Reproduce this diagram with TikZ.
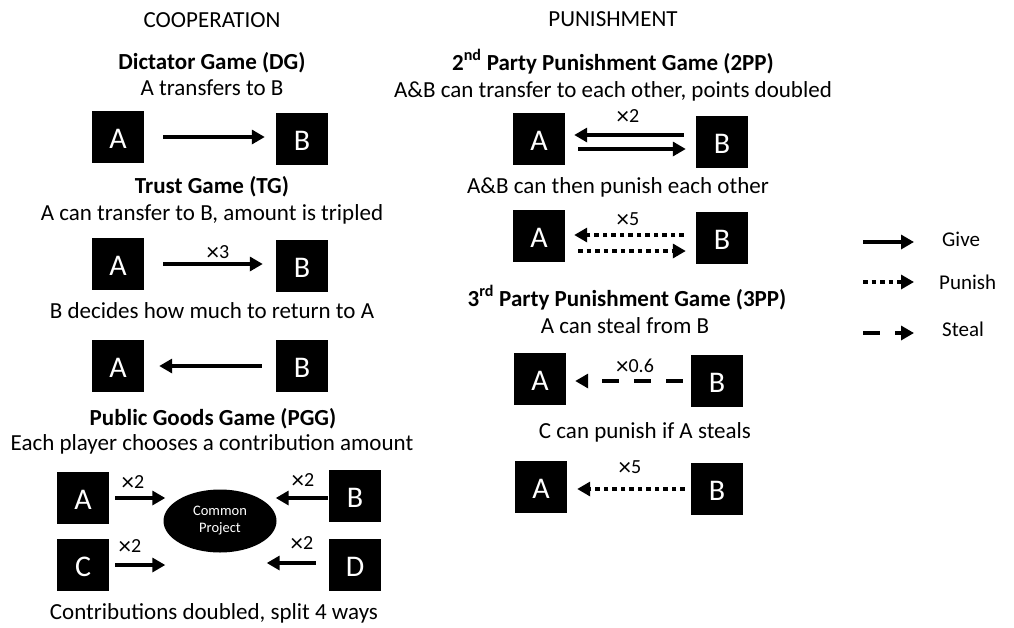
\documentclass[tikz,border=0pt]{standalone}
\usepackage{fontspec}
\setmainfont{Carlito}
\usetikzlibrary{arrows.meta,shapes.geometric,calc}
\newcommand{\tms}{\raisebox{-2.4pt}{\scalebox{1.25}{×}}}
\begin{document}
\begin{tikzpicture}[x=1pt,y=-1pt,
  txt/.style={font=\fontsize{23}{27}\selectfont, inner sep=0pt, text height=16pt, text depth=2pt},
  ttl/.style={txt, font=\fontsize{23}{27}\selectfont\bfseries},
  lbl/.style={font=\fontsize{20}{22}\selectfont, inner sep=0pt, text height=13pt, text depth=0pt},
  lgd/.style={font=\fontsize{21}{24}\selectfont, inner sep=0pt, anchor=west, text height=15pt, text depth=2pt},
  box/.style={fill=black, text=white, minimum size=52pt, inner sep=0pt, font=\fontsize{30}{32}\selectfont, text height=22pt, text depth=0pt},
  proj/.style={ellipse, fill=black, text=white, minimum width=113pt, minimum height=63pt, inner sep=0pt, align=center, font=\fontsize{14.5}{17}\selectfont},
  arr/.style={line width=4.5pt, -{Triangle[length=13pt,width=14pt]}},
  give/.style={arr},
  punish/.style={arr, dash pattern=on 4.7pt off 3.8pt},
  steal/.style={arr, dash pattern=on 17pt off 15pt},
]
\useasboundingbox (0,0) rectangle (1014,627);

% ---------- COOPERATION ----------
\node[txt] (coop) at (212,20) {COOPERATION};
\node[ttl] (dgT) at (212,62) {Dictator Game (DG)};
\node[txt] (dgS) at (212,88) {A transfers to B};
\node[box] (dgA) at (118,137) {A};
\node[box] (dgB) at (302,139) {B};
\draw[give, shorten <=19pt, shorten >=11pt] (dgA.east) -- (dgA.east -| dgB.west);

\node[ttl] (tgT) at (212,186) {Trust Game (TG)};
\node[txt] (tgS) at (212,213) {A can transfer to B, amount is tripled};
\node[box] (tgA) at (118,264) {A};
\node[box] (tgB) at (302,266) {B};
\draw[give, shorten <=19pt, shorten >=13pt] (tgA.east) -- (tgA.east -| tgB.west);
\node[lbl] (tgL) at (218,252) {\tms3};

\node[txt] (tgR) at (212,311) {B decides how much to return to A};
\node[box] (trA) at (118,366) {A};
\node[box] (trB) at (302,366) {B};
\draw[give, shorten <=14pt, shorten >=15pt] (trB.west) -- (trA.east);

\node[ttl] (pgT) at (213,418) {Public Goods Game (PGG)};
\node[txt] (pgS) at (212,443) {Each player chooses a contribution amount};
\node[box] (pgA) at (83,498) {A};
\node[box] (pgB) at (355,496) {B};
\node[box] (pgC) at (83,565) {C};
\node[box] (pgD) at (355,565) {D};
\node[proj] (cp) at (220,521) {Common\\Project};
\draw[give, shorten <=6pt, shorten >=-2pt] (pgA.east) -- (pgA.east -| cp.west);
\draw[give, shorten <=6pt, shorten >=-2pt] (pgC.east) -- (pgC.east -| cp.west);
\draw[give, shorten <=1pt, shorten >=-1pt] ([yshift=-2pt]pgB.west) -- ([yshift=-2pt]pgB.west -| cp.east);
\draw[give, shorten <=13pt, shorten >=-10pt] ([yshift=2pt]pgD.west) -- ([yshift=2pt]pgD.west -| cp.east);
\node[lbl] (pgLA) at (133,482) {\tms2};
\node[lbl] (pgLC) at (130,546) {\tms2};
\node[lbl] (pgLB) at (303,480) {\tms2};
\node[lbl] (pgLD) at (302,543) {\tms2};
\node[txt] (pgE) at (214,612) {Contributions doubled, split 4 ways};

% ---------- PUNISHMENT ----------
\node[txt] (pun) at (613,19) {PUNISHMENT};
\node[ttl] (ppT) at (613,63) {2\textsuperscript{nd} Party Punishment Game (2PP)};
\node[txt] (ppS) at (613,90) {A\&B can transfer to each other, points doubled};
\node[box] (ppA) at (539,139) {A};
\node[box] (ppB) at (722,142) {B};
\draw[give, shorten <=12pt, shorten >=9pt] ([yshift=7pt]ppB.west) -- ([yshift=7pt]ppB.west -| ppA.east);
\draw[give, shorten <=13pt, shorten >=10pt] ([yshift=-10pt]ppA.east) -- ([yshift=-10pt]ppA.east -| ppB.west);
\node[lbl] (ppL) at (628,116) {\tms2};

\node[txt] (ppP) at (618,186) {A\&B can then punish each other};
\node[box] (puA) at (539,236) {A};
\node[box] (puB) at (722,238) {B};
\draw[punish, shorten <=12pt, shorten >=9pt] ([yshift=3pt]puB.west) -- ([yshift=3pt]puB.west -| puA.east);
\draw[punish, shorten <=13pt, shorten >=10pt] ([yshift=-15pt]puA.east) -- ([yshift=-15pt]puA.east -| puB.west);
\node[lbl] (puL) at (628,219) {\tms5};

\node[ttl] (tpT) at (627,299) {3\textsuperscript{rd} Party Punishment Game (3PP)};
\node[txt] (tpS) at (625,326) {A can steal from B};
\node[box] (stA) at (540,379) {A};
\node[box] (stB) at (717,381) {B};
\draw[steal, shorten <=8pt, shorten >=9pt] (stB.west) -- (stB.west -| stA.east);
\node[lbl] (stL) at (635,366) {\tms0.6};

\node[txt] (tpC) at (645,431) {C can punish if A steals};
\node[box] (cpA) at (541,487) {A};
\node[box] (cpB) at (717,489) {B};
\draw[punish, shorten <=6pt, shorten >=10pt] (cpB.west) -- (cpB.west -| cpA.east);
\node[lbl] (cpL) at (630,467) {\tms5};

% ---------- LEGEND ----------
\coordinate (g1) at (863,242); \coordinate (g2) at (914,242);
\coordinate (p1) at (863,282); \coordinate (p2) at (914,282);
\coordinate (s1) at (863,333); \coordinate (s2) at (914,333);
\draw[give] (g1) -- (g2);
\draw[punish] (p1) -- (p2);
\draw[steal] (s1) -- (s2);
\node[lgd] (lg) at (942,240) {Give};
\node[lgd] (lp) at (939,283) {Punish};
\node[lgd] (ls) at (942,330) {Steal};
\end{tikzpicture}
\end{document}
